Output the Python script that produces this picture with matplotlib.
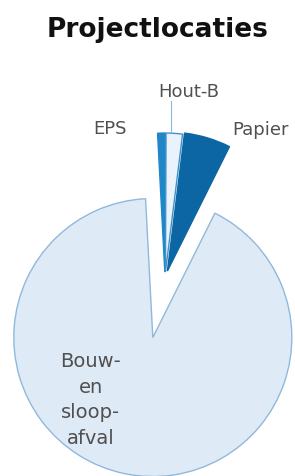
import matplotlib.pyplot as plt

# data
labels = ['EPS', 'Hout-B', 'Papier', 'Bouw-\nen\nsloop-\nafval']
shares = [0.9, 1.9, 5.4, 91.8]
explode = [0.05, 0.05, 0.06, 0.43]

fills = ['#1f86c8', '#eaf3fb', '#0b66a3', '#dfeaf7']
edges = ['#1f86c8', '#3f93cc', '#0b66a3', '#8fb9dc']

W, H = 295, 476
R = 139.0          # pie radius in px
CX, CY = 165, 279  # pie centre in px (from top-left)

fig = plt.figure(figsize=(W / 100, H / 100), dpi=100)
ax = fig.add_axes([0, 0, 1, 1])

wedges, _ = ax.pie(shares, explode=explode, colors=fills, startangle=93,
                   counterclock=False, radius=1,
                   wedgeprops=dict(linewidth=1.0))
for w, ec in zip(wedges, edges):
    w.set_edgecolor(ec)

ax.set_xlim(-CX / R, (W - CX) / R)
ax.set_ylim(-(H - CY) / R, CY / R)
ax.set_aspect('equal')
ax.axis('off')


def px(x, y):
    return x / W, 1 - y / H


txt = dict(color='#505050', fontsize=13, ha='center', va='center')
fig.text(*px(158, 37), 'Projectlocaties', fontsize=19, fontweight='bold',
         color='#111111', ha='center', va='baseline')
fig.text(*px(110, 129), labels[0], **txt)
fig.text(*px(189, 92), labels[1], **txt)
fig.text(*px(261, 130), labels[2], **txt)
fig.text(*px(91, 400), labels[3], linespacing=1.45,
         **{**txt, 'fontsize': 14})

# leader line for Hout-B
fig.add_artist(plt.Line2D([171 / W, 171 / W], [1 - 101 / H, 1 - 132 / H],
                          color='#8fb9dc', linewidth=0.8))

fig.savefig('out.png', dpi=100)
